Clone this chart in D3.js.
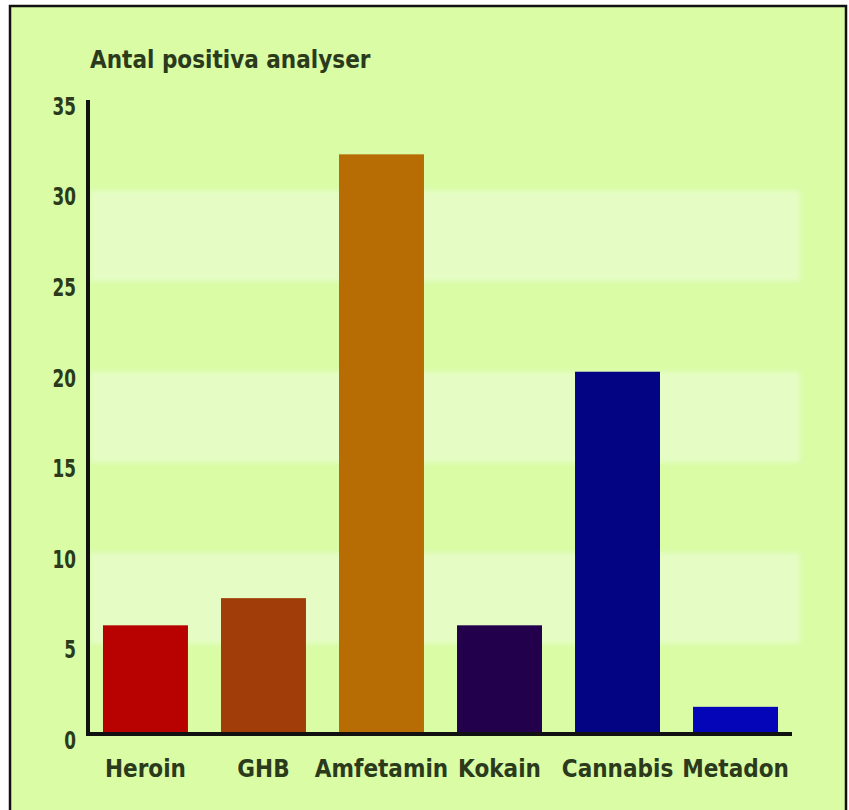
<!DOCTYPE html>
<html>
<head>
<meta charset="utf-8">
<script src="https://cdn.jsdelivr.net/npm/d3@7/dist/d3.min.js"></script>
<style>
  html, body { margin: 0; padding: 0; background: #ffffff; }
  svg { display: block; }
  .lbl { font-family: "DejaVu Sans Condensed", "DejaVu Sans", sans-serif; font-stretch: condensed; font-weight: bold; fill: #2b3a1b; }
  .num { font-family: "DejaVu Sans Condensed", "DejaVu Sans", sans-serif; font-stretch: condensed; font-weight: bold; fill: #2b3a1b; }
</style>
</head>
<body>
<script>
// Positive analyses per substance
const categories = ["Heroin", "GHB", "Amfetamin", "Kokain", "Cannabis", "Metadon"];
const values = [6, 7.5, 32, 6, 20, 1.5];
const barColors = ["#b80202", "#a03d08", "#b86c04", "#22004c", "#020484", "#0404b8"];
const yTicks = [0, 5, 10, 15, 20, 25, 30, 35];
const bandRanges = [[5, 10], [15, 20], [25, 30]];
const yTitle = "Antal positiva analyser";

const W = 849, H = 810;
const svg = d3.select("body").append("svg").attr("width", W).attr("height", H);

// Framed panel
svg.append("rect")
  .attr("x", 10).attr("y", 6).attr("width", 836).attr("height", 820)
  .attr("fill", "#d9fca5").attr("stroke", "#111").attr("stroke-width", 2.5);

const x = d3.scaleBand().domain(categories).range([88, 793])
  .paddingInner(0.28).paddingOuter(0.127);
const y = d3.scaleLinear().domain([0, 35]).range([734, 100]);

// Soft lighter bands behind the bars
const defs = svg.append("defs");
defs.append("filter").attr("id", "soft").attr("x", "-5%").attr("y", "-20%").attr("width", "110%").attr("height", "140%")
  .append("feGaussianBlur").attr("stdDeviation", 2.5);

svg.append("g").attr("filter", "url(#soft)")
  .selectAll("rect").data(bandRanges).join("rect")
  .attr("x", 90).attr("width", 710)
  .attr("y", d => y(d[1]))
  .attr("height", d => y(d[0]) - y(d[1]))
  .attr("fill", "#e5fdc5");

// Bars
svg.append("g").selectAll("rect").data(values).join("rect")
  .attr("x", (d, i) => x(categories[i]))
  .attr("width", x.bandwidth())
  .attr("y", d => y(d))
  .attr("height", d => y(0) - y(d))
  .attr("fill", (d, i) => barColors[i]);

// Y axis (narrow numerals)
const numScale = 0.78;
const yAxis = svg.append("g").attr("transform", "translate(88,0)")
  .call(d3.axisLeft(y).tickValues(yTicks).tickSize(0).tickSizeOuter(0));
yAxis.select(".domain").attr("stroke", "#111").attr("stroke-width", 4)
  .attr("d", `M0,${y(35)}V${y(0) + 2}`);
yAxis.selectAll(".tick text")
  .attr("class", "num").attr("font-size", 24).attr("dy", "0.6em")
  .attr("x", -12 / numScale)
  .attr("transform", `scale(${numScale},1)`)
  .attr("fill", "#2b3a1b").attr("font-family", null);

// X axis
const xAxis = svg.append("g").attr("transform", `translate(0,${y(0)})`)
  .call(d3.axisBottom(x).tickSize(0).tickSizeOuter(0).tickPadding(26));
xAxis.select(".domain").attr("stroke", "#111").attr("stroke-width", 4)
  .attr("d", "M86,0H792");
xAxis.selectAll(".tick text")
  .attr("class", "lbl").attr("font-size", 24).attr("dy", "0.71em")
  .attr("fill", "#2b3a1b").attr("font-family", null);

// Axis title
svg.append("text").attr("class", "lbl")
  .attr("x", 90).attr("y", 68).attr("font-size", 24)
  .text(yTitle);
</script>
</body>
</html>
